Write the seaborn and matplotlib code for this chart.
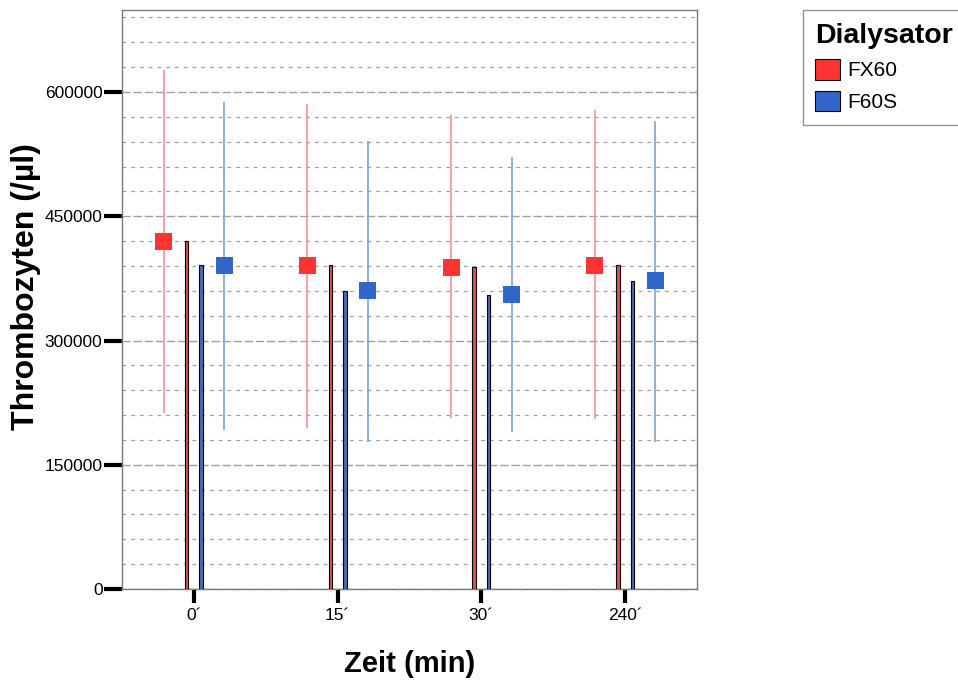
import matplotlib
matplotlib.use("Agg")
import matplotlib.pyplot as plt
import matplotlib.ticker as mticker
from matplotlib.patches import Patch
import numpy as np
import pandas as pd
import seaborn as sns

zeiten = ["0´", "15´", "30´", "240´"]
dialysatoren = ["FX60", "F60S"]
farben = {"FX60": "#ff3333", "F60S": "#3366cc"}
linien = {"FX60": "#ff8c8c", "F60S": "#7f9ee0"}

mittel_fx60 = [420000, 391000, 388500, 391000]
mittel_f60s = [391000, 360000, 355000, 372000]
unten_fx60 = [212000, 194000, 207000, 205000]
oben_fx60 = [627000, 586000, 572000, 578000]
unten_f60s = [192000, 177000, 189000, 178000]
oben_f60s = [588000, 541000, 521000, 565000]

df = pd.DataFrame({
    "Zeit": zeiten * 2,
    "Dialysator": ["FX60"] * 4 + ["F60S"] * 4,
    "Wert": mittel_fx60 + mittel_f60s,
})

sns.set_style("white")
plt.rcParams["font.family"] = ["Liberation Sans", "DejaVu Sans"]
plt.rcParams["text.color"] = "black"
plt.rcParams["axes.labelcolor"] = "black"
plt.rcParams["xtick.color"] = "black"
plt.rcParams["ytick.color"] = "black"

fig = plt.figure(figsize=(9.58, 6.81), dpi=100)
ax = fig.add_axes([0.1273, 0.1351, 0.6003, 0.8502])

# feine Gitterlinien
ax.yaxis.set_major_locator(mticker.MultipleLocator(150000))
ax.yaxis.set_minor_locator(mticker.MultipleLocator(30000))
ax.grid(axis="y", which="major", color="#a0a0a0", linestyle=(0, (6, 2)), linewidth=1.0)
ax.grid(axis="y", which="minor", color="#a0a0a0", linestyle=(0, (3, 4)), linewidth=0.9)
ax.set_axisbelow(True)

sns.barplot(data=df, x="Zeit", y="Wert", hue="Dialysator", order=zeiten,
            hue_order=dialysatoren, palette=farben, width=0.2, gap=0.75,
            edgecolor="black", linewidth=0.8, legend=False, ax=ax, zorder=3)

pos = np.arange(len(zeiten))
versatz = 0.21
for name, mittel, unten, oben, dx in [
    ("FX60", mittel_fx60, unten_fx60, oben_fx60, -versatz),
    ("F60S", mittel_f60s, unten_f60s, oben_f60s, versatz),
]:
    ax.vlines(pos + dx, unten, oben, color=linien[name], linewidth=1.2, zorder=4)
    sns.scatterplot(x=pos + dx, y=mittel, marker="s", s=150, color=farben[name],
                    edgecolor="none", ax=ax, zorder=5, legend=False)

ax.set_xlim(-0.5, 3.5)
ax.set_ylim(0, 699000)
ax.yaxis.set_major_formatter(mticker.FuncFormatter(lambda v, p: f"{int(v)}"))

for s in ax.spines.values():
    s.set_color("#7a7a7a")
    s.set_linewidth(1.0)

ax.tick_params(axis="both", which="major", direction="out", width=3,
               color="black", labelcolor="black", labelsize=12.5, left=True, bottom=True)
ax.tick_params(axis="y", which="major", length=13, pad=1)
ax.tick_params(axis="x", which="major", length=10, pad=4)
ax.tick_params(axis="y", which="minor", length=0)

ax.set_xlabel("Zeit (min)", fontsize=21, fontweight="bold", labelpad=19, color="black")
ax.set_ylabel("Thrombozyten (/µl)", fontsize=23, fontweight="bold", color="black")
ax.yaxis.set_label_coords(-0.14, 0.523)

handles = [Patch(facecolor=farben[n], edgecolor="black", linewidth=0.8) for n in dialysatoren]
leg = fig.legend(handles, dialysatoren, title="Dialysator", loc="upper left",
                 bbox_to_anchor=(0.838, 0.9853), borderaxespad=0, frameon=True,
                 fontsize=15, title_fontproperties={"weight": "bold", "size": 20.5},
                 handlelength=1.2, handleheight=1.15, handletextpad=0.35,
                 labelspacing=0.5, borderpad=0.6, alignment="left",
                 fancybox=False, labelcolor="black")
leg.get_title().set_color("black")
leg.get_frame().set_edgecolor("#7a7a7a")
leg.get_frame().set_linewidth(1.0)

fig.savefig("out.png", dpi=100)
